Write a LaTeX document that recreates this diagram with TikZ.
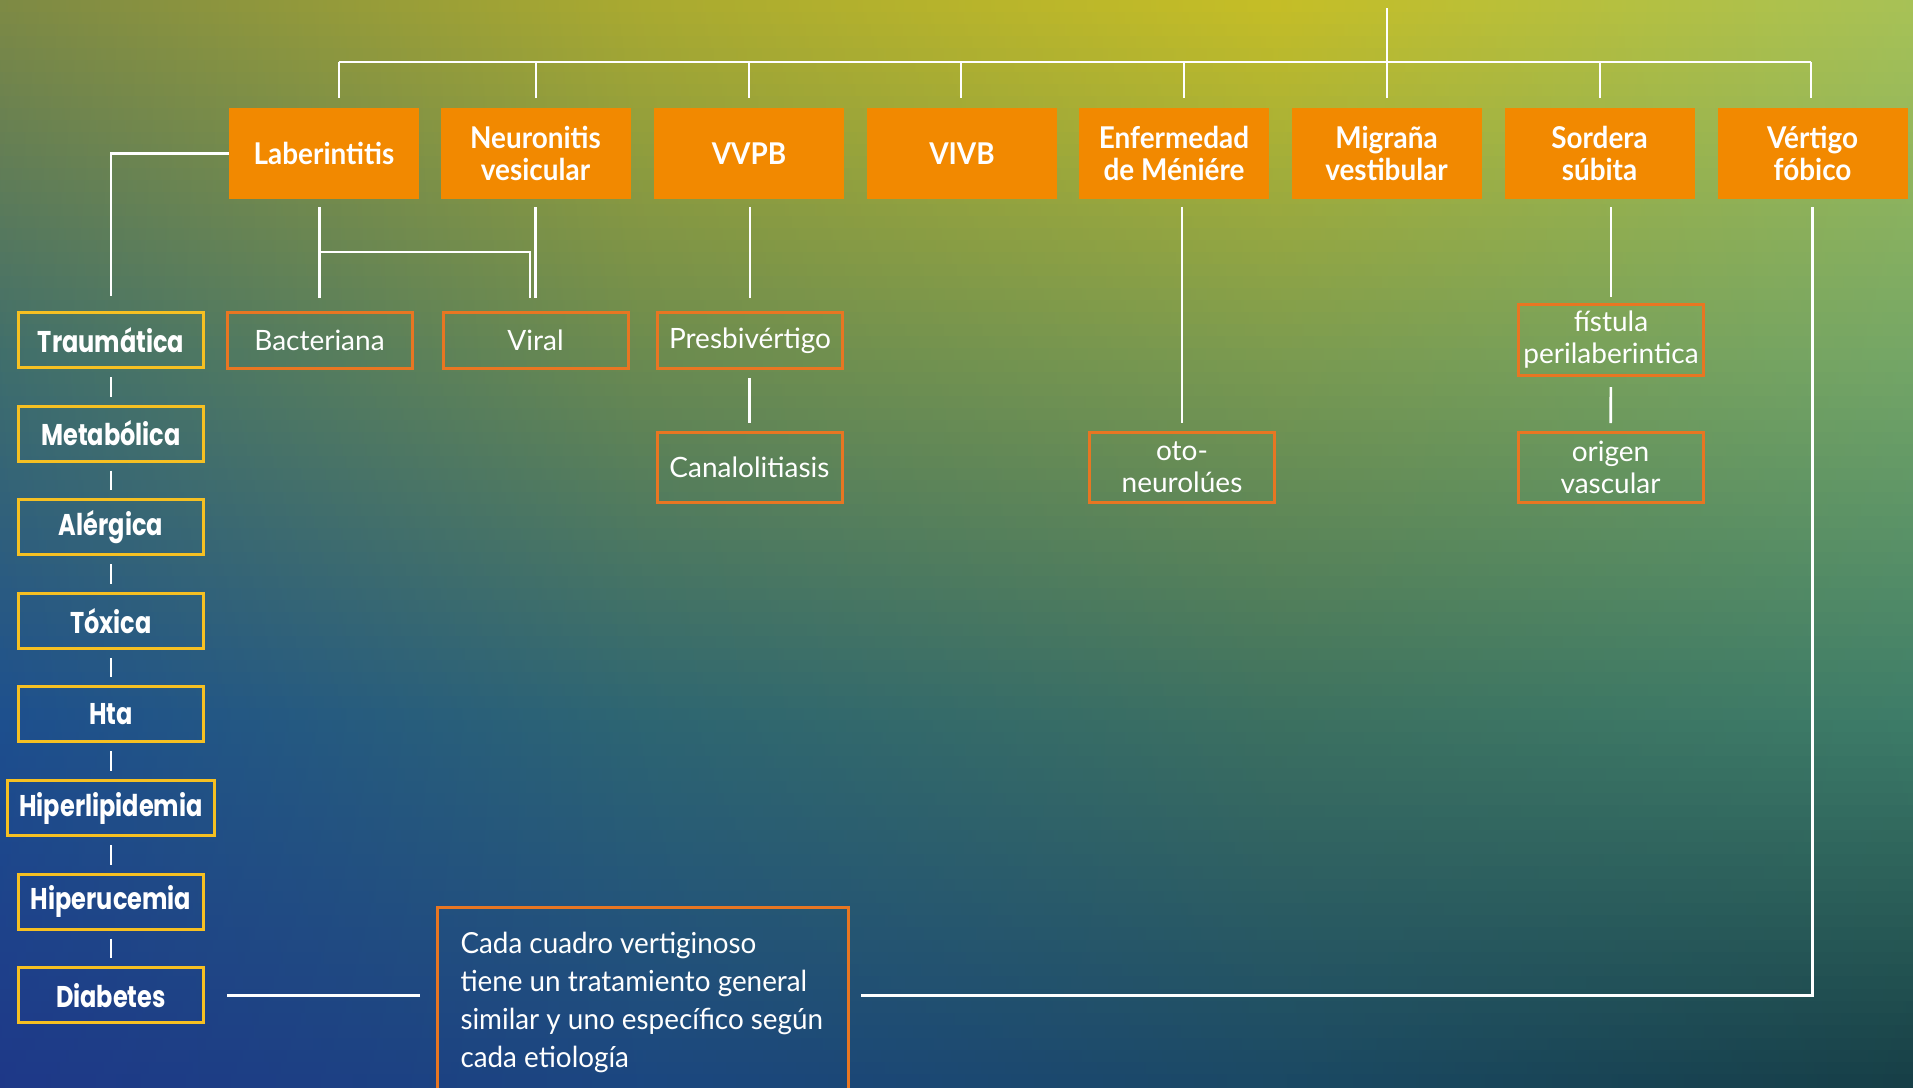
\documentclass[tikz,border=0pt]{standalone}
\usepackage{fontspec}
\setmainfont{Lato}
\newfontfamily\topf{Lato}[FakeStretch=0.93]
\newfontfamily\txtf{Lato}[FakeStretch=0.96]
\newfontfamily\leftf{Poppins}[FakeStretch=0.8]
\usetikzlibrary{calc}
\definecolor{orfill}{RGB}{242,137,0}
\definecolor{orline}{RGB}{232,118,34}
\definecolor{yeline}{RGB}{246,192,34}
% background grid colours (rows top->bottom, columns left->right)
\definecolor{r0a}{HTML}{7E8A44}\definecolor{r0b}{HTML}{AAAA30}\definecolor{r0c}{HTML}{C6BE26}\definecolor{r0d}{HTML}{A8C256}
\definecolor{r1a}{HTML}{3F6E6C}\definecolor{r1b}{HTML}{6A8A50}\definecolor{r1c}{HTML}{7A9A50}\definecolor{r1d}{HTML}{74A666}
\definecolor{r2a}{HTML}{1D4F8E}\definecolor{r2b}{HTML}{2D6572}\definecolor{r2c}{HTML}{3C7060}\definecolor{r2d}{HTML}{3D7C68}
\definecolor{r3a}{HTML}{1E3888}\definecolor{r3b}{HTML}{1B4680}\definecolor{r3c}{HTML}{1A4864}\definecolor{r3d}{HTML}{163E46}
\colorlet{bgA}{r0a}\colorlet{bgB}{r0b}\colorlet{bgC}{r0c}\colorlet{bgD}{r0d}
\pgfdeclarehorizontalshading[bgA,bgB,bgC,bgD]{bgrow}{100bp}{color(0bp)=(bgA); color(25bp)=(bgA); color(41.667bp)=(bgB); color(58.333bp)=(bgC); color(75bp)=(bgD); color(100bp)=(bgD)}
\newcommand\bgseg[4]{%
  \foreach \k in {0,...,29}{%
    \pgfmathsetmacro\ya{#1+(#2-#1)*\k/30}%
    \pgfmathsetmacro\yb{#1+(#2-#1)*(\k+1)/30+0.8}%
    \pgfmathsetmacro\p{100*(\k+0.5)/30}%
    \colorlet{bgA}{#4a!\p!#3a}%
    \colorlet{bgB}{#4b!\p!#3b}%
    \colorlet{bgC}{#4c!\p!#3c}%
    \colorlet{bgD}{#4d!\p!#3d}%
    \shade[shading=bgrow] (0,\ya) rectangle (1913,\yb);
  }}
\begin{document}
\begin{tikzpicture}[x=1pt,y=-1pt,
  wl/.style={draw=white, line width=2.6pt},
  topbox/.style={fill=orfill, minimum width=190pt, minimum height=91pt, inner sep=0pt,
    text=white, align=center, font=\topf\bfseries\fontsize{30}{32}\selectfont},
  thinbox/.style={draw=orline, line width=3pt, minimum width=185pt, minimum height=56pt,
    inner sep=0pt, text=white, align=center, font=\fontsize{28}{32}\selectfont},
  leftbox/.style={draw=yeline, line width=3pt, minimum width=185pt, minimum height=55pt,
    inner sep=0pt, text=white, font=\leftf\bfseries\fontsize{30}{32}\selectfont},
  txtbox/.style={draw=orline, line width=3pt, text=white, font=\txtf\fontsize{29}{38}\selectfont}]
\useasboundingbox (0,0) rectangle (1913,1087);
\clip (0,0) rectangle (1913,1087);
\bgseg{0}{360}{r0}{r1}
\bgseg{360}{720}{r1}{r2}
\bgseg{720}{1087}{r2}{r3}

% top row
\node[topbox] (lab)  at (324,153.5)    {Laberintitis};
\node[topbox] (neu)  at (535.5,153.5)  {Neuronitis\\vesicular};
\node[topbox] (vvpb) at (749,153.5)    {VVPB};
\node[topbox] (vivb) at (962,153.5)    {VIVB};
\node[topbox] (enf)  at (1174,153.5)   {Enfermedad\\de Méniére};
\node[topbox] (mig)  at (1386.5,153.5) {Migraña\\vestibular};
\node[topbox] (sor)  at (1599.5,153.5) {Sordera\\súbita};
\node[topbox] (ver)  at (1812.5,153.5) {Vértigo\\fóbico};

% bus
\coordinate (root) at (1387,8);
\coordinate (dlab) at (339,62);
\coordinate (dneu) at (536,62);
\coordinate (dvvpb) at (749,62);
\coordinate (dvivb) at (961,62);
\coordinate (denf) at (1184,62);
\coordinate (dmig) at (1387,62);
\coordinate (dsor) at (1600,62);
\coordinate (dver) at (1811,62);
\draw[wl] (dlab) -- (dver);
\draw[wl] (root) -- (dmig);
\foreach \n in {lab,neu,vvpb,vivb,enf,mig,sor,ver}{
  \draw[wl, shorten >=10pt] (d\n) -- (d\n |- \n.north);
}

% second level
\node[thinbox] (bact)  at (319.5,340.5) {Bacteriana};
\node[thinbox] (viral) at (535.5,340.5) {Viral};
\node[thinbox] (presb) at (750,340.5)   {Presbivértigo};
\node[thinbox, minimum height=70pt] (canal) at (749.5,467.5) {Canalolitiasis};
\node[thinbox, minimum height=70pt] (oto)   at (1182,467.5)  {oto-\\neurolúes};
\node[thinbox, minimum height=71pt] (fist)  at (1611,340)    {fístula\\perilaberintica};
\node[thinbox, minimum height=70pt] (orig)  at (1610.5,467.5) {origen\\vascular};

\draw[wl, shorten <=8pt, shorten >=13.5pt] (lab.south -| bact) -- (bact);
\coordinate (jl) at (bact |- 0,252);
\coordinate (jr) at (530,252);
\draw[wl, shorten >=13.5pt] (jl) -- (jr) -- (jr |- viral.north);
\draw[wl, shorten <=8pt, shorten >=13.5pt] (neu) -- (viral);
\draw[wl, shorten <=8pt, shorten >=13.5pt] (vvpb.south -| presb) -- (presb);
\draw[wl, shorten <=8pt, shorten >=8pt] (presb.south -| canal) -- (canal);
\draw[wl, shorten <=8pt, shorten >=8pt] (enf.south -| oto) -- (oto);
\draw[wl, shorten <=8pt, shorten >=6pt] (sor.south -| fist) -- (fist);
\draw[wl, shorten <=10pt, shorten >=8pt] (fist) -- (orig);

% left column
\node[leftbox] (trau) at (111,340)   {Traumática};
\node[leftbox] (meta) at (111,433.6) {Metabólica};
\node[leftbox] (aler) at (111,527.2) {Alérgica};
\node[leftbox] (toxi) at (111,620.8) {Tóxica};
\node[leftbox] (hta)  at (111,714.4) {Hta};
\node[leftbox, minimum width=207pt] (hlip) at (111,808) {Hiperlipidemia};
\node[leftbox] (huri) at (111,901.6) {Hiperucemia};
\node[leftbox] (diab) at (111,995.2) {Diabetes};
\draw[wl, shorten >=15pt] (lab.west) -| (trau);
\foreach \a/\b in {trau/meta,meta/aler,aler/toxi,toxi/hta,hta/hlip,hlip/huri,huri/diab}{
  \draw[wl, shorten <=8pt, shorten >=8pt] (\a) -- (\b);
}

% text box
\node[txtbox, anchor=north west, inner xsep=23.5pt, inner ysep=0pt] (txt) at (435.5,905.5)
  {\parbox[t][230pt][t]{364pt}{\rule{0pt}{46.5pt}\mbox{Cada cuadro vertiginoso}\\\mbox{tiene un tratamiento general}\\\mbox{similar y uno específico según}\\\mbox{cada etiología}}};

\draw[wl, shorten <=22pt, shorten >=16pt] (diab) -- (txt.west |- diab);
\draw[wl, shorten <=8pt, shorten >=11pt] (ver) |- (txt.east |- diab);
\end{tikzpicture}
\end{document}
